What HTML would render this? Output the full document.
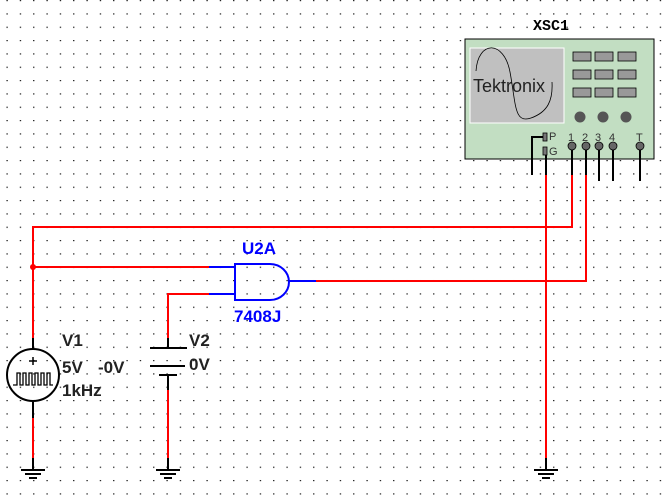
<!DOCTYPE html>
<html><head><style>body{margin:0;background:#fff}svg{display:block}</style></head><body>
<svg width="671" height="500" xmlns="http://www.w3.org/2000/svg" font-family="Liberation Sans, sans-serif">
<defs><pattern id="g" width="13.333" height="13.333" patternUnits="userSpaceOnUse" x="0" y="0"><rect x="6.5" y="0" width="1.2" height="1.2" fill="#000"/></pattern></defs>
<rect width="671" height="500" fill="url(#g)"/>
<!-- scope -->
<rect x="465" y="39" width="189" height="120" fill="#c2dec2" stroke="#000" stroke-width="1"/>
<rect x="470" y="48" width="94" height="75" fill="#c0c0c0" stroke="#fff" stroke-width="1"/>
<path d="M476 71 C478 40,504 40,510 72 S514 124,531 118 S553 100,552 82" fill="none" stroke="#000" stroke-width="0.8"/>
<text x="473" y="92" font-size="18" fill="#222">Tektronix</text>
<g fill="#999" stroke="#000" stroke-width="0.8">
<rect x="573" y="52" width="18" height="9"/><rect x="595" y="52" width="18" height="9"/><rect x="618" y="52" width="18" height="9"/>
<rect x="573" y="70" width="18" height="9"/><rect x="595" y="70" width="18" height="9"/><rect x="618" y="70" width="18" height="9"/>
<rect x="573" y="88" width="18" height="9"/><rect x="595" y="88" width="18" height="9"/><rect x="618" y="88" width="18" height="9"/>
</g>
<g fill="#555"><circle cx="580" cy="117" r="5.5"/><circle cx="603" cy="117" r="5.5"/><circle cx="626" cy="117" r="5.5"/></g>
<g font-size="11" fill="#333"><text x="568" y="141">1</text><text x="582" y="141">2</text><text x="595" y="141">3</text><text x="609" y="141">4</text><text x="636" y="141">T</text><text x="549" y="140">P</text><text x="549" y="155">G</text></g>
<g stroke="#000" stroke-width="2" fill="none">
<path d="M532 175 V137 H545"/><line x1="546" y1="150" x2="546" y2="175"/>
<line x1="572" y1="146" x2="572" y2="175"/><line x1="586" y1="146" x2="586" y2="175"/><line x1="599" y1="146" x2="599" y2="181"/><line x1="613" y1="146" x2="613" y2="181"/><line x1="640" y1="146" x2="640" y2="181"/>
</g>
<g fill="#777" stroke="#000" stroke-width="0.8"><rect x="543" y="133" width="4" height="8"/><rect x="543" y="147" width="4" height="8"/></g>
<g fill="#666" stroke="#000" stroke-width="0.8"><circle cx="572" cy="146" r="4"/><circle cx="586" cy="146" r="4"/><circle cx="599" cy="146" r="4"/><circle cx="613" cy="146" r="4"/><circle cx="640" cy="146" r="4"/></g>
<text x="533" y="30" font-family="Liberation Mono, monospace" font-weight="bold" font-size="15">XSC1</text>
<!-- red wires -->
<g stroke="#f00" stroke-width="2" fill="none">
<line x1="546" y1="175" x2="546" y2="458"/>
<path d="M572 175 V227 H33 V338"/>
<path d="M586 175 V281 H316"/>
<line x1="33" y1="267" x2="209" y2="267"/>
<path d="M209 294 H168 V338"/>
<line x1="33" y1="418" x2="33" y2="458"/>
<line x1="168" y1="390" x2="168" y2="458"/>
</g>
<circle cx="33" cy="267" r="3" fill="#f00"/>
<!-- gate -->
<g stroke="#00f" stroke-width="2" fill="none">
<line x1="209" y1="267" x2="235" y2="267"/><line x1="209" y1="294" x2="235" y2="294"/><line x1="289" y1="281" x2="316" y2="281"/>
<path d="M235 264 H270 A19 18 0 0 1 270 300 H235 Z"/>
</g>
<text x="242" y="254" font-size="17" font-weight="bold" fill="#00f">U2A</text>
<text x="234" y="322" font-size="17" font-weight="bold" fill="#00f">7408J</text>
<!-- V1 -->
<g stroke="#000" stroke-width="2" fill="none">
<line x1="33" y1="338" x2="33" y2="349"/><line x1="33" y1="402" x2="33" y2="418"/>
<circle cx="33" cy="375" r="26"/>
<path d="M13 385 H17 V373 H20 V385 H23 V373 H26 V385 H29 V373 H32 V385 H35 V373 H38 V385 H41 V373 H44 V385 H47 V373 H50 V385 H53" stroke-width="1.3"/>
<path d="M33 357 V365 M29 361 H37" stroke-width="1.5"/>
</g>
<g font-size="17" font-weight="bold" fill="#222"><text x="62" y="346">V1</text><text x="62" y="373">5V</text><text x="98" y="373">-0V</text><text x="62" y="396">1kHz</text>
<text x="189" y="346">V2</text><text x="189" y="370">0V</text></g>
<!-- battery -->
<g stroke="#000" stroke-width="2" fill="none">
<line x1="168" y1="338" x2="168" y2="348"/><line x1="150" y1="348" x2="187" y2="348"/>
<line x1="150" y1="366" x2="185" y2="366"/><line x1="159" y1="375" x2="177" y2="375"/>
<line x1="168" y1="375" x2="168" y2="390"/>
</g>
<!-- grounds -->
<g stroke="#000" stroke-width="2">
<g id="gnd"><line x1="33" y1="458" x2="33" y2="470"/><line x1="21" y1="470" x2="45" y2="470"/><line x1="25" y1="474" x2="41" y2="474"/><line x1="29" y1="478" x2="37" y2="478"/></g>
<use href="#gnd" x="135"/><use href="#gnd" x="513"/>
</g>
</svg>
</body></html>
